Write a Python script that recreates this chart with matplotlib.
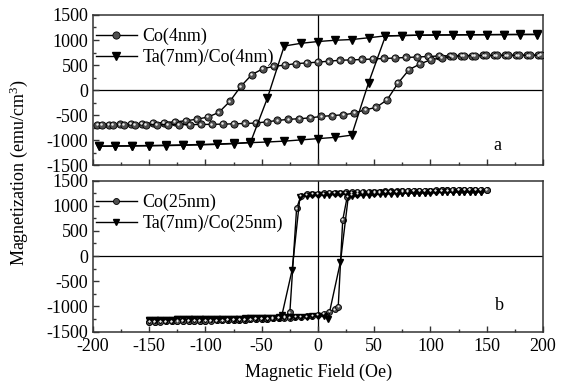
import numpy as np
import matplotlib
matplotlib.use('Agg')
import matplotlib.pyplot as plt
from matplotlib.ticker import MultipleLocator
from matplotlib.transforms import ScaledTranslation

plt.rcParams['font.family'] = 'Liberation Serif'
plt.rcParams['mathtext.fontset'] = 'custom'
plt.rcParams['mathtext.rm'] = 'Liberation Serif'
plt.rcParams['mathtext.it'] = 'Liberation Serif:italic'
plt.rcParams['axes.unicode_minus'] = False

# ---- (a) 4 nm Co films ----
# Co(4nm): field sweep down (+H -> -H) and back up
h_co4_down = np.linspace(196, -196, 41)
m_co4_down = [697, 696, 695, 694, 693, 692, 691, 690, 688, 682,
              672, 662, 652, 642, 632, 622, 612, 604, 597, 578,
              560, 544, 530, 500, 476, 428, 310, 76, -224, -444,
              -536, -578, -610, -630, -645, -656, -665, -672, -680, -686,
              -690]
h_co4_up = np.linspace(-192, 198, 41)
m_co4_up = [-692, -691, -690, -690, -689, -688, -687, -686, -685, -683,
            -680, -676, -670, -663, -655, -630, -603, -580, -568, -550,
            -523, -505, -490, -457, -390, -343, -190, 143, 410, 523,
            610, 643, 677, 685, 690, 692, 694, 695, 696, 697,
            698]

# Ta(7nm)/Co(4nm)
h_ta4_down = [195, 180, 165, 150, 135, 120, 105, 90, 75, 60, 45, 30, 15, 0,
              -15, -30, -45, -60, -75, -90, -105, -120, -135, -150, -165, -180, -195]
m_ta4_down = [1110, 1110, 1108, 1106, 1104, 1102, 1100, 1096, 1090, 1083, 1045, 1010, 995, 970,
              935, 880, -160, -1040, -1060, -1072, -1082, -1090, -1096, -1102, -1106, -1110, -1113]
h_ta4_up = [-195, -180, -165, -150, -135, -120, -105, -90, -75, -60, -45, -30, -15, 0,
            15, 30, 45, 60, 75, 90, 105, 120, 135, 150, 165, 180, 195]
m_ta4_up = [-1118, -1115, -1112, -1108, -1104, -1098, -1090, -1080, -1065, -1045, -1032, -1015, -990, -965,
            -940, -895, 150, 1080, 1090, 1096, 1100, 1103, 1106, 1108, 1110, 1111, 1112]

# ---- (b) 25 nm Co films ----
h_co25_down = [150, 145, 140, 135, 130, 125, 120, 115, 110, 105, 100, 95, 90, 85, 80,
               75, 70, 65, 60, 55, 50, 45, 40, 35, 30, 25, 20, 15, 10, 5, 0,
               -5, -10, -15, -19, -25, -30, -35, -40, -45, -50, -55, -60, -65, -70,
               -75, -80, -85, -90, -95, -100, -105, -110, -115, -120, -125, -130, -135, -140,
               -145, -150]
m_co25_down = [1320, 1318, 1316, 1314, 1312, 1310, 1308, 1306, 1304, 1302, 1300, 1298, 1296, 1294, 1292,
               1290, 1288, 1286, 1284, 1282, 1280, 1277, 1274, 1271, 1268, 1265, 1262, 1258, 1254, 1249, 1243,
               1236, 1226, 1200, 948, -1120, -1210, -1225, -1235, -1242, -1248, -1253, -1258, -1262, -1266,
               -1270, -1273, -1276, -1279, -1281, -1284, -1286, -1288, -1290, -1292, -1294, -1296, -1298, -1300,
               -1302, -1304]
h_co25_up = [-150, -145, -140, -135, -130, -125, -120, -115, -110, -105, -100, -95, -90, -85, -80,
             -75, -70, -65, -60, -55, -50, -45, -40, -35, -30, -25, -20, -15, -10, -5, 0,
             5, 10, 15, 18, 22, 26, 30, 35, 40, 45, 50, 55, 60, 65, 70, 75, 80, 85, 90,
             95, 100, 105, 110, 115, 120, 125, 130, 135, 140, 145, 150]
m_co25_up = [-1306, -1304, -1302, -1300, -1298, -1296, -1294, -1292, -1290, -1288, -1286, -1283, -1280, -1277, -1274,
             -1270, -1266, -1262, -1258, -1254, -1250, -1245, -1240, -1235, -1230, -1222, -1215, -1208, -1200, -1188, -1172,
             -1150, -1110, -1060, -1007, 715, 1180, 1225, 1240, 1250, 1256, 1262, 1267, 1272, 1276, 1280, 1284, 1288, 1291, 1294,
             1297, 1300, 1303, 1306, 1308, 1310, 1312, 1314, 1316, 1318, 1320, 1322]

h_ta25_down = [145, 140, 135, 130, 125, 120, 115, 110, 105, 100, 95, 90, 85, 80, 75,
               70, 65, 60, 55, 50, 45, 40, 35, 30, 25, 20, 15, 10, 5, 0,
               -5, -10, -16, -23, -32, -35, -40, -45, -50, -55, -60, -65, -70, -75, -80,
               -85, -90, -95, -100, -105, -110, -115, -120, -125, -130, -135, -140, -145, -150]
m_ta25_down = [1282, 1280, 1278, 1276, 1274, 1272, 1270, 1268, 1266, 1264, 1262, 1260, 1258, 1256, 1254,
               1252, 1250, 1248, 1246, 1244, 1242, 1240, 1237, 1234, 1231, 1228, 1225, 1221, 1217, 1212,
               1208, 1202, 1180, -278, -1170, -1212, -1222, -1228, -1232, -1236, -1240, -1243, -1246, -1248, -1250,
               -1252, -1254, -1255, -1256, -1257, -1258, -1259, -1260, -1261, -1262, -1263, -1264, -1265, -1266]
h_ta25_up = [-150, -145, -140, -135, -130, -125, -120, -115, -110, -105, -100, -95, -90, -85, -80,
             -75, -70, -65, -60, -55, -50, -45, -40, -35, -30, -25, -20, -15, -10, -5, 0,
             5, 9, 20, 27, 30, 35, 40, 45, 50, 55, 60, 65, 70, 75, 80, 85, 90,
             95, 100, 105, 110, 115, 120, 125, 130, 135, 140, 145]
m_ta25_up = [-1266, -1265, -1264, -1263, -1262, -1261, -1260, -1259, -1258, -1257, -1256, -1254, -1252, -1250, -1248,
             -1246, -1244, -1241, -1238, -1235, -1232, -1229, -1226, -1223, -1220, -1216, -1212, -1208, -1204, -1200, -1195,
             -1190, -1245, -113, 1190, 1200, 1208, 1214, 1220, 1225, 1230, 1235, 1239, 1243, 1247, 1250, 1253, 1256,
             1259, 1262, 1265, 1267, 1270, 1272, 1274, 1276, 1278, 1280, 1282]

fig = plt.figure(figsize=(5.66, 3.87), dpi=100)
ax1 = fig.add_axes([0.1643, 0.5724, 0.795, 0.389])
ax2 = fig.add_axes([0.1643, 0.1434, 0.795, 0.390])


def ball_line(ax, h, m, ms, label=None):
    # dark sphere markers with a small highlight spot
    line, = ax.plot(h, m, '-o', color='black', lw=1.0, ms=ms, mfc='#505050',
                    mec='black', mew=0.6, label=label, zorder=3)
    shift = ax.transData + ScaledTranslation(-0.5 / 72, 0.5 / 72, fig.dpi_scale_trans)
    ax.plot(h, m, 'o', ms=ms * 0.35, mfc='#e8e8e8', mec='none', transform=shift, zorder=4)
    return line


def tri_line(ax, h, m, ms, label=None):
    line, = ax.plot(h, m, '-v', color='black', lw=1.0, ms=ms, mfc='black',
                    mec='black', label=label, zorder=3)
    return line


# panel a
ball_line(ax1, h_co4_down, m_co4_down, 5.2, 'Co(4nm)')
ball_line(ax1, h_co4_up, m_co4_up, 5.2)
tri_line(ax1, h_ta4_down, m_ta4_down, 6, 'Ta(7nm)/Co(4nm)')
tri_line(ax1, h_ta4_up, m_ta4_up, 6)

# panel b
ball_line(ax2, h_co25_down, m_co25_down, 4.3, 'Co(25nm)')
ball_line(ax2, h_co25_up, m_co25_up, 4.3)
tri_line(ax2, h_ta25_down, m_ta25_down, 5, 'Ta(7nm)/Co(25nm)')
tri_line(ax2, h_ta25_up, m_ta25_up, 5)

for ax in (ax1, ax2):
    ax.set_xlim(-200, 200)
    ax.set_ylim(-1500, 1500)
    ax.axhline(0, color='black', lw=0.9, zorder=1)
    ax.axvline(0, color='black', lw=0.9, zorder=1)
    ax.xaxis.set_major_locator(MultipleLocator(50))
    ax.xaxis.set_minor_locator(MultipleLocator(25))
    ax.yaxis.set_major_locator(MultipleLocator(500))
    ax.yaxis.set_minor_locator(MultipleLocator(250))
    ax.tick_params(which='both', direction='in', top=False, right=False,
                   labelsize=13, width=1, color='#333333')
    ax.tick_params(which='major', length=4)
    ax.tick_params(which='minor', length=2.5)
    for sp in ax.spines.values():
        sp.set_linewidth(1.1)
        sp.set_color('#333333')
    ax.legend(loc='upper left', bbox_to_anchor=(0.0, 0.93), frameon=False,
              fontsize=13, handlelength=2.3, handletextpad=0.3,
              labelspacing=0.2, borderpad=0, borderaxespad=0.15, numpoints=1)

ax1.tick_params(labelbottom=False)
ax2.tick_params(axis='x', pad=5)

ax1.text(0.898, 0.136, 'a', transform=ax1.transAxes, fontsize=13, ha='center', va='center')
ax2.text(0.904, 0.175, 'b', transform=ax2.transAxes, fontsize=13, ha='center', va='center')

fig.text(0.033, 0.553, 'Magnetization (emu/cm$^3$)', rotation=90, fontsize=13,
         ha='center', va='center')
fig.text(0.562, 0.039, 'Magnetic Field (Oe)', fontsize=13, ha='center', va='center')

fig.savefig('out.png', dpi=100)
